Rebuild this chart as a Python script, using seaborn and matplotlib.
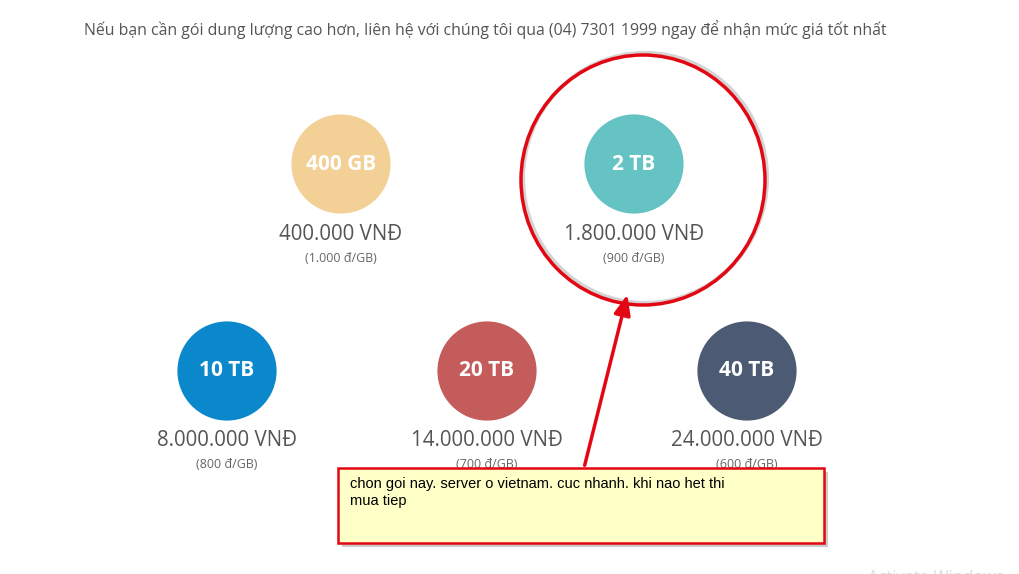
import matplotlib
matplotlib.use("Agg")
import matplotlib.pyplot as plt
import seaborn as sns
import pandas as pd
from matplotlib.patches import Ellipse, Rectangle

# data
plans = ["400 GB", "2 TB", "10 TB", "20 TB", "40 TB"]
prices = ["400.000 VNĐ", "1.800.000 VNĐ", "8.000.000 VNĐ", "14.000.000 VNĐ", "24.000.000 VNĐ"]
per_gb = ["(1.000 đ/GB)", "(900 đ/GB)", "(800 đ/GB)", "(700 đ/GB)", "(600 đ/GB)"]
colors = ["#f2d096", "#65c3c3", "#0b87cc", "#c55c5c", "#4c5a73"]
header = "Nếu bạn cần gói dung lượng cao hơn, liên hệ với chúng tôi qua (04) 7301 1999 ngay để nhận mức giá tốt nhất"
note = "chon goi nay. server o vietnam. cuc nhanh. khi nao het thi\nmua tiep"

# layout: two rows, pixel coordinates
xs = [341, 634, 227, 487, 747]
ys = [164, 164, 371, 371, 371]
df = pd.DataFrame({"x": xs, "y": ys, "plan": plans})

sns.set_style("white")
plt.rcParams["font.family"] = ["Open Sans", "DejaVu Sans"]

fig = plt.figure(figsize=(10.19, 5.74), dpi=100)
ax = fig.add_axes([0, 0, 1, 1])
ax.set_xlim(0, 1019)
ax.set_ylim(574, 0)
ax.axis("off")

sns.scatterplot(data=df, x="x", y="y", hue="plan", palette=colors, s=5100,
                linewidth=0, legend=False, ax=ax, zorder=2)

for x, y, p, pr, g in zip(xs, ys, plans, prices, per_gb):
    ax.text(x, y, p, ha="center", va="center", color="white", fontsize=15, fontweight="bold", zorder=3)
    ax.text(x, y + 70, pr, ha="center", va="center", color="#555555", fontsize=14.8)
    ax.text(x, y + 94, g, ha="center", va="center", color="#666666", fontsize=9)

ax.text(84, 30, header, ha="left", va="center", color="#555555", fontsize=11.4)

# annotation
ax.add_patch(Ellipse((645, 178), 244, 250, fill=False, edgecolor="#aaaaaa", linewidth=3, alpha=0.5, zorder=4))
ax.add_patch(Ellipse((643, 180), 244, 250, fill=False, edgecolor="#e30613", linewidth=2.5, zorder=5))
ax.annotate("", xy=(628, 292), xytext=(584, 468),
            arrowprops=dict(arrowstyle="-|>,head_length=1.2,head_width=0.5", color="#e30613", lw=2.5), zorder=5)
ax.add_patch(Rectangle((342, 472), 486, 75, facecolor="#999999", alpha=0.5, edgecolor="none", zorder=5))
ax.add_patch(Rectangle((338, 468), 486, 75, facecolor="#ffffc8", edgecolor="#e30613", linewidth=1.8, zorder=6))
ax.text(350, 477, note, ha="left", va="top", fontsize=10.5, family=["Liberation Sans"], color="black",
        linespacing=1.3, zorder=7)
ax.text(868, 586, "Activate Windows", ha="left", va="bottom", fontsize=12, color="#dddddd", clip_on=True)

fig.savefig("out.png", dpi=100)
